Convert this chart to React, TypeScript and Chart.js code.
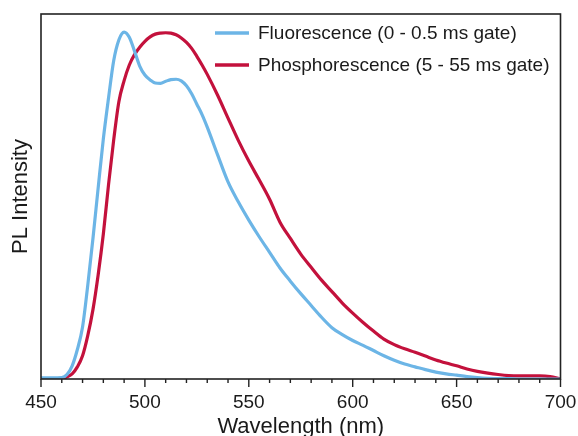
import React, { useEffect, useRef } from "react";
import { Chart, registerables } from "chart.js";

Chart.register(...registerables);

const wavelengths = [
  450, 455, 460, 462.5, 465, 467.5, 470, 472.5, 475, 477.5, 480, 482.5, 485, 487.5, 490,
  492.5, 495, 497.5, 500, 502.5, 505, 507.5, 510, 512.5, 515, 517.5, 520, 522.5, 525,
  527.5, 530, 535, 540, 545, 550, 555, 560, 565, 570, 575, 580, 585, 590, 595, 600, 605,
  610, 615, 620, 625, 630, 635, 640, 645, 650, 655, 660, 665, 670, 675, 680, 685, 690,
  695, 700,
];

const fluorescence = [
  0.003, 0.003, 0.004, 0.013, 0.038, 0.085, 0.15, 0.27, 0.405, 0.55, 0.692, 0.81, 0.918,
  0.978, 1.0, 0.985, 0.945, 0.902, 0.876, 0.862, 0.853, 0.852, 0.858, 0.863, 0.864, 0.859,
  0.845, 0.822, 0.792, 0.762, 0.726, 0.646, 0.568, 0.51, 0.458, 0.41, 0.365, 0.32, 0.282,
  0.246, 0.212, 0.178, 0.148, 0.128, 0.111, 0.097, 0.082, 0.067, 0.054, 0.043, 0.035, 0.027,
  0.02, 0.015, 0.011, 0.007, 0.004, 0.002, 0.001, 0.001, 0.0, 0.0, 0.0, 0.0, 0.0,
];

const phosphorescence = [
  0.0, 0.0, 0.001, 0.006, 0.015, 0.035, 0.067, 0.125, 0.2, 0.3, 0.418, 0.56, 0.69, 0.8,
  0.86, 0.905, 0.935, 0.956, 0.973, 0.986, 0.994, 0.997, 0.998, 0.997, 0.992, 0.983, 0.97,
  0.953, 0.93, 0.905, 0.878, 0.818, 0.752, 0.687, 0.628, 0.574, 0.518, 0.452, 0.405, 0.36,
  0.322, 0.285, 0.252, 0.219, 0.19, 0.163, 0.138, 0.115, 0.099, 0.087, 0.077, 0.066, 0.055,
  0.046, 0.038, 0.029, 0.022, 0.017, 0.013, 0.01, 0.009, 0.009, 0.009, 0.007, 0.0,
];

const seriesLabels = ["Fluorescence (0 - 0.5 ms gate)", "Phosphorescence (5 - 55 ms gate)"];
const seriesColors = ["#6cb5e6", "#c3113c"];

const xMin = 450;
const xMax = 700;
const xMajorStep = 50;
const xMinorStep = 10;
const yMax = 1.052;

const FONT = "'Liberation Sans', Arial, Helvetica, sans-serif";
const TEXT = "#1a1a1a";

const frameAndTicks = {
  id: "frameAndTicks",
  afterDatasetsDraw(chart: any) {
    const { ctx, chartArea: a, scales } = chart;
    const x = scales.x;
    ctx.save();
    ctx.strokeStyle = "#222";
    ctx.lineWidth = 1.6;
    ctx.strokeRect(a.left, a.top, a.right - a.left, a.bottom - a.top);
    ctx.beginPath();
    for (let v = xMin; v <= xMax; v += xMinorStep) {
      const px = x.getPixelForValue(v);
      const len = v % xMajorStep === 0 ? 8 : 4;
      ctx.moveTo(px, a.bottom);
      ctx.lineTo(px, a.bottom + len);
    }
    ctx.lineWidth = 1.4;
    ctx.stroke();
    ctx.restore();
  },
};

const insideLegend = {
  id: "insideLegend",
  afterDraw(chart: any) {
    const { ctx } = chart;
    ctx.save();
    chart.data.datasets.forEach((ds: any, i: number) => {
      const y = 33 + i * 32;
      ctx.beginPath();
      ctx.strokeStyle = ds.borderColor;
      ctx.lineWidth = 3.5;
      ctx.moveTo(215, y);
      ctx.lineTo(249, y);
      ctx.stroke();
      ctx.font = `19px ${FONT}`;
      ctx.fillStyle = TEXT;
      ctx.textBaseline = "middle";
      ctx.textAlign = "left";
      ctx.fillText(ds.label, 258, y + 1);
    });
    ctx.restore();
  },
};

export default function App() {
  const canvasRef = useRef<HTMLCanvasElement | null>(null);

  useEffect(() => {
    if (!canvasRef.current) return;
    const chart = new Chart(canvasRef.current, {
      type: "line",
      data: {
        datasets: [
          {
            label: seriesLabels[0],
            data: wavelengths.map((w, i) => ({ x: w, y: fluorescence[i] })),
            borderColor: seriesColors[0],
            borderWidth: 3.2,
            pointRadius: 0,
            cubicInterpolationMode: "monotone",
            fill: false,
          },
          {
            label: seriesLabels[1],
            data: wavelengths.map((w, i) => ({ x: w, y: phosphorescence[i] })),
            borderColor: seriesColors[1],
            borderWidth: 3.2,
            pointRadius: 0,
            cubicInterpolationMode: "monotone",
            fill: false,
          },
        ],
      },
      options: {
        animation: false,
        responsive: true,
        maintainAspectRatio: false,
        layout: { padding: { top: 14, right: 17.5, left: 0, bottom: 0 } },
        plugins: {
          legend: { display: false },
          tooltip: { enabled: false },
        },
        scales: {
          x: {
            type: "linear",
            min: xMin,
            max: xMax,
            grid: { display: false },
            border: { display: false },
            ticks: {
              stepSize: xMajorStep,
              autoSkip: false,
              maxRotation: 0,
              padding: 4,
              color: TEXT,
              font: { family: FONT, size: 19 },
            },
            title: {
              display: true,
              text: "Wavelength (nm)",
              color: TEXT,
              font: { family: FONT, size: 22, lineHeight: 0.78 },
              padding: { top: 0, bottom: 0 },
            },
            afterFit: (s: any) => {
              s.height = 57;
              s.paddingLeft = 0;
              s.paddingRight = 0;
            },
          },
          y: {
            min: 0,
            max: yMax,
            grid: { display: false },
            border: { display: false },
            ticks: { display: false },
            title: {
              display: true,
              text: "PL Intensity",
              color: TEXT,
              font: { family: FONT, size: 22, lineHeight: 1 },
              padding: { top: 10, bottom: 0 },
            },
            afterFit: (s: any) => {
              s.width = 41;
              s.paddingTop = 0;
              s.paddingBottom = 0;
            },
          },
        },
      },
      plugins: [frameAndTicks, insideLegend],
    } as any);
    return () => chart.destroy();
  }, []);

  return (
    <div style={{ position: "absolute", left: 0, top: 0, width: 578, height: 436, background: "#fff" }}>
      <canvas ref={canvasRef} />
    </div>
  );
}
